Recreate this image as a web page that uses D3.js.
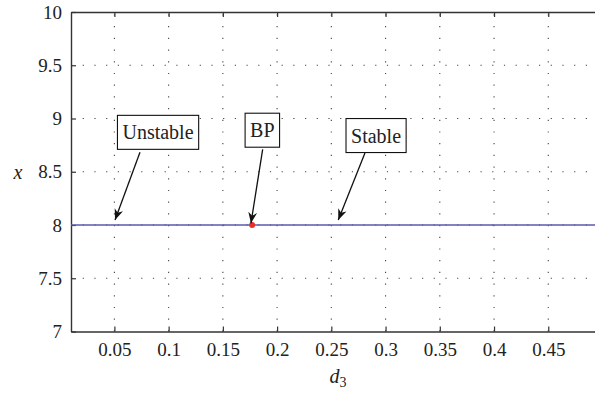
<!DOCTYPE html>
<html>
<head>
<meta charset="utf-8">
<script src="https://cdn.jsdelivr.net/npm/d3@7/dist/d3.min.js"></script>
<style>
  body { margin: 0; background: #fff; }
  svg { display: block; }
  text { font-family: "Liberation Serif", "DejaVu Serif", serif; fill: #222; }
</style>
</head>
<body>
<svg id="chart" width="595" height="396"></svg>
<script>
// data
var xTicks = [0.05, 0.1, 0.15, 0.2, 0.25, 0.3, 0.35, 0.4, 0.45];
var yTicks = [7, 7.5, 8, 8.5, 9, 9.5, 10];
var d3Values = [0.01, 0.5];
var xValues = [8, 8];
var bpPoint = [0.177, 8];
// annotations: label, box center (d3, x), arrow tail and tip (d3, x)
var notes = [
  {label: "Unstable", box: [0.0902, 8.87], tail: [0.0736, 8.683], tip: [0.0506, 8.047]},
  {label: "BP", box: [0.1864, 8.89], tail: [0.1867, 8.711], tip: [0.1759, 8.016]},
  {label: "Stable", box: [0.2912, 8.84], tail: [0.2810, 8.676], tip: [0.2564, 8.047]}
];

var svg = d3.select("#chart");
var plotLeft = 71, plotTop = 12, plotRight = 602.5, plotBottom = 331.5;

var x = d3.scaleLinear().domain([0.01, 0.5]).range([plotLeft, plotRight]);
var y = d3.scaleLinear().domain([7, 10]).range([plotBottom, plotTop]);

// grid
var grid = svg.append("g").attr("stroke", "#444").attr("stroke-width", 1.1)
  .attr("stroke-dasharray", "1.2,10.5");
xTicks.forEach(function(t){
  grid.append("line")
    .attr("x1", x(t)).attr("x2", x(t))
    .attr("y1", plotBottom).attr("y2", plotTop);
});
yTicks.slice(1, -1).forEach(function(t){
  grid.append("line")
    .attr("x1", plotLeft).attr("x2", plotRight)
    .attr("y1", y(t)).attr("y2", y(t));
});

// axes
var fmt = function(d){ return String(d); };
var xAxis = svg.append("g").attr("transform", "translate(0," + plotBottom + ")")
  .call(d3.axisBottom(x).tickValues(xTicks).tickFormat(fmt).tickSizeInner(-5).tickSizeOuter(0).tickPadding(11));
var xTop = svg.append("g").attr("transform", "translate(0," + plotTop + ")")
  .call(d3.axisTop(x).tickValues(xTicks).tickFormat("").tickSizeInner(-5).tickSizeOuter(0));
var yAxis = svg.append("g").attr("transform", "translate(" + plotLeft + ",0)")
  .call(d3.axisLeft(y).tickValues(yTicks).tickFormat(fmt).tickSizeInner(-5).tickSizeOuter(0).tickPadding(9));

[xAxis, xTop, yAxis].forEach(function(a){
  a.attr("font-family", "Liberation Serif").attr("font-size", 19);
  a.select(".domain").attr("stroke", "#333").attr("stroke-width", 1.4);
  a.selectAll(".tick line").attr("stroke", "#333").attr("stroke-width", 1.2);
  a.selectAll(".tick text").attr("fill", "#222");
});

// equilibrium line
var line = d3.line().x(function(d, i){ return x(d3Values[i]); }).y(function(d){ return y(d); });
svg.append("path").datum(xValues)
  .attr("d", line)
  .attr("fill", "none")
  .attr("stroke", "#5a5aae")
  .attr("stroke-width", 1.6);

svg.append("circle")
  .attr("cx", x(bpPoint[0])).attr("cy", y(bpPoint[1]))
  .attr("r", 3).attr("fill", "#e8302a");

// arrowhead
svg.append("defs").append("marker")
  .attr("id", "head").attr("viewBox", "0 0 10 10")
  .attr("refX", 10).attr("refY", 5)
  .attr("markerWidth", 11).attr("markerHeight", 11)
  .attr("markerUnits", "userSpaceOnUse")
  .attr("orient", "auto")
  .append("path").attr("d", "M0,1 L10,5 L0,9 L3,5 Z").attr("fill", "#111");

notes.forEach(function(n){
  svg.append("line")
    .attr("x1", x(n.tail[0])).attr("y1", y(n.tail[1]))
    .attr("x2", x(n.tip[0])).attr("y2", y(n.tip[1]))
    .attr("stroke", "#111").attr("stroke-width", 1.3)
    .attr("marker-end", "url(#head)");
  var g = svg.append("g");
  var t = g.append("text")
    .attr("x", x(n.box[0])).attr("y", y(n.box[1]))
    .attr("text-anchor", "middle").attr("dominant-baseline", "central")
    .attr("font-family", "Liberation Serif")
    .attr("font-size", 20).text(n.label);
  var bb = t.node().getBBox();
  g.insert("rect", "text")
    .attr("x", bb.x - 5).attr("y", bb.y - 6)
    .attr("width", bb.width + 10).attr("height", bb.height + 12)
    .attr("fill", "#fff").attr("stroke", "#111").attr("stroke-width", 1.1);
});

// labels
svg.append("text").attr("x", 18).attr("y", y(8.5))
  .attr("text-anchor", "middle").attr("dominant-baseline", "central")
  .attr("font-size", 20).attr("font-style", "italic").text("x");

var xl = svg.append("text").attr("x", 338).attr("y", 383)
  .attr("text-anchor", "middle").attr("font-size", 20).attr("font-style", "italic");
xl.append("tspan").text("d");
xl.append("tspan").attr("font-size", 14).attr("font-style", "normal").attr("dy", 4).text("3");
</script>
</body>
</html>
